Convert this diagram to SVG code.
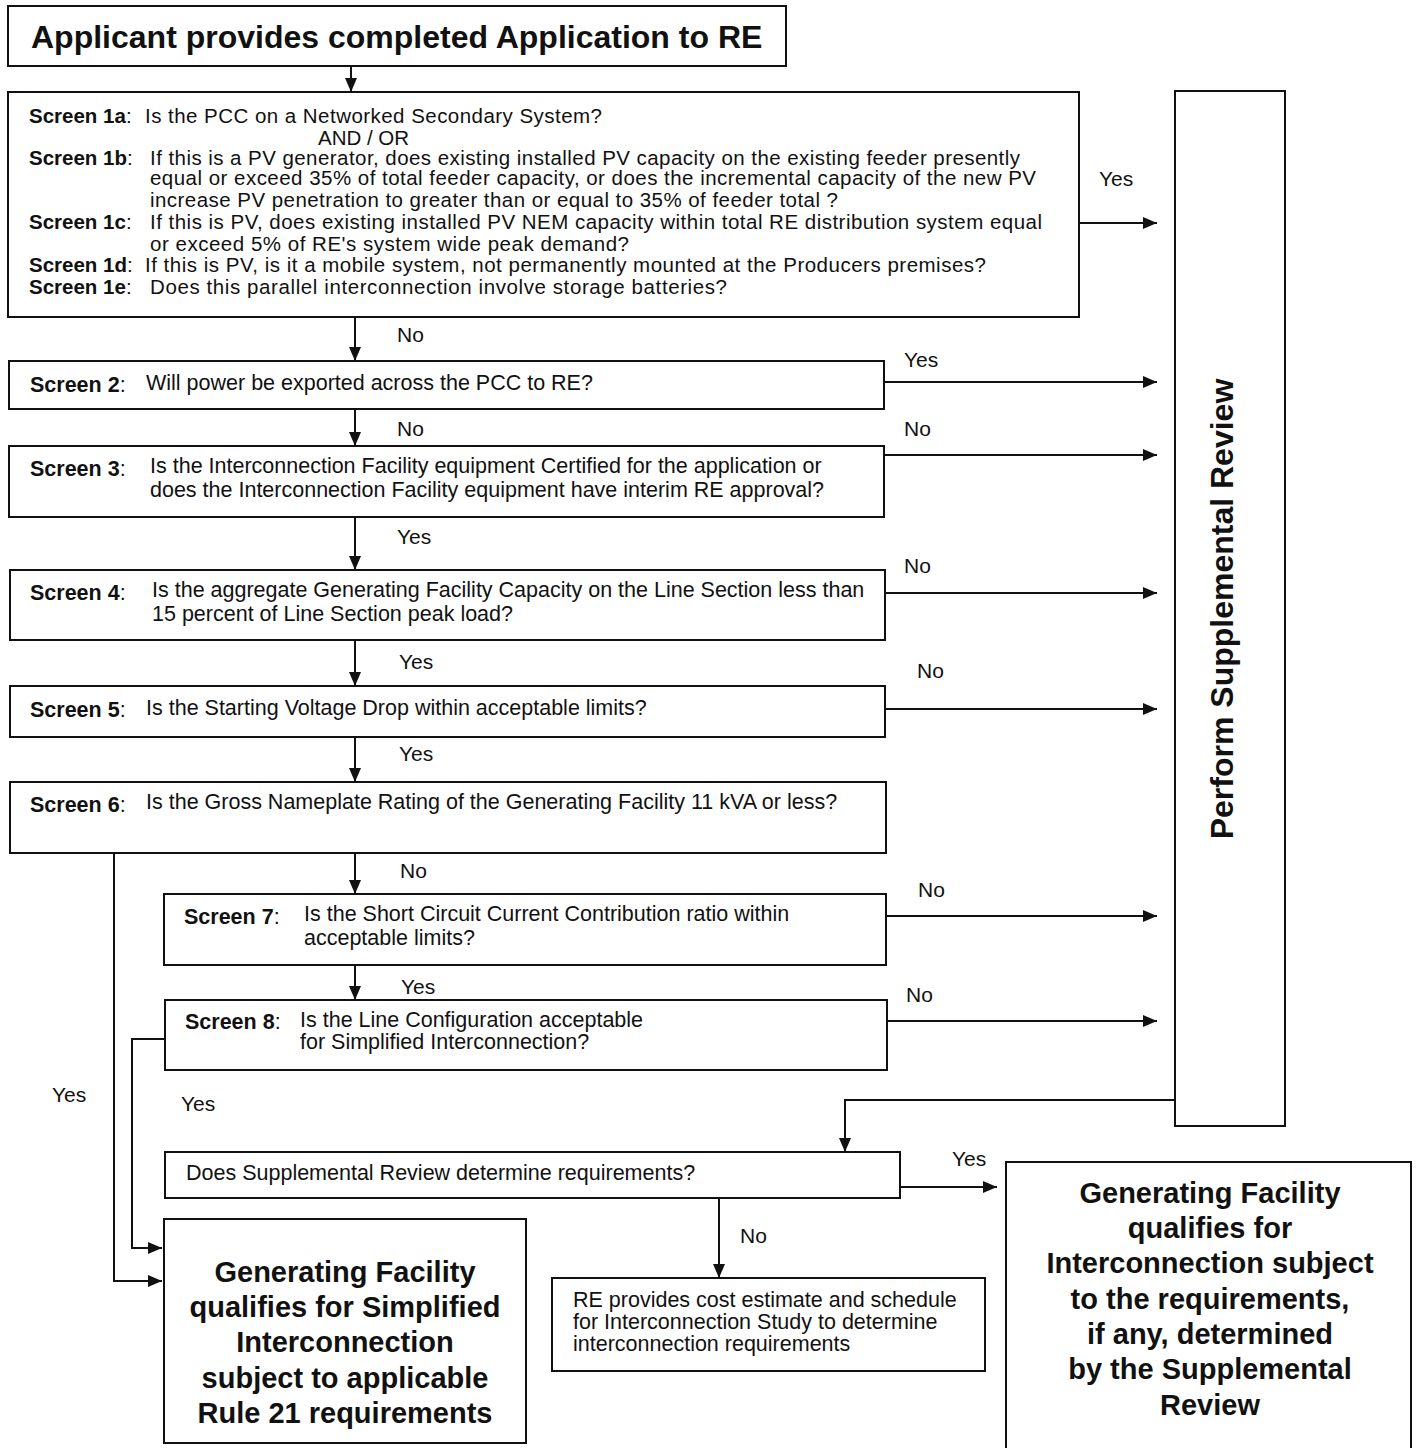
<svg xmlns="http://www.w3.org/2000/svg" width="1416" height="1448" viewBox="0 0 1416 1448">
<defs>
<marker id="ah" viewBox="0 0 14 12" refX="14" refY="6" markerWidth="14" markerHeight="12" markerUnits="userSpaceOnUse" orient="auto"><path d="M0,0 L14,6 L0,12 z" fill="#111"/></marker>
<style>
.box{fill:#fff;stroke:#111;stroke-width:2}
.t{font-family:"Liberation Sans",Arial,sans-serif;font-size:21.5px;fill:#111}
.s{font-family:"Liberation Sans",Arial,sans-serif;font-size:20.5px;fill:#111}
.b{font-weight:bold}
.lbl{font-family:"Liberation Sans",Arial,sans-serif;font-size:21px;fill:#111}
.big{font-family:"Liberation Sans",Arial,sans-serif;font-size:29px;font-weight:bold;fill:#111;text-anchor:middle}
.c{fill:none;stroke:#111;stroke-width:2}
.a{marker-end:url(#ah)}
</style>
</defs>
<rect width="1416" height="1448" fill="#fff"/>

<g id="connectors">
<line class="c a" x1="351" y1="66" x2="351" y2="92"/>
<line class="c a" x1="1079" y1="223" x2="1157" y2="223"/>
<line class="c a" x1="355" y1="317" x2="355" y2="361"/>
<line class="c a" x1="884" y1="382" x2="1157" y2="382"/>
<line class="c a" x1="355" y1="409" x2="355" y2="446"/>
<line class="c a" x1="884" y1="455" x2="1157" y2="455"/>
<line class="c a" x1="355" y1="517" x2="355" y2="570"/>
<line class="c a" x1="885" y1="593" x2="1157" y2="593"/>
<line class="c a" x1="355" y1="640" x2="355" y2="686"/>
<line class="c a" x1="885" y1="709" x2="1157" y2="709"/>
<line class="c a" x1="355" y1="737" x2="355" y2="782"/>
<line class="c a" x1="355" y1="853" x2="355" y2="894"/>
<line class="c a" x1="886" y1="916" x2="1157" y2="916"/>
<line class="c a" x1="355" y1="965" x2="355" y2="1000"/>
<line class="c a" x1="887" y1="1021" x2="1157" y2="1021"/>
<polyline class="c a" points="114,853 114,1281 162,1281"/>
<polyline class="c a" points="165,1039 132,1039 132,1248 162,1248"/>
<polyline class="c a" points="1176,1100 845,1100 845,1152"/>
<line class="c a" x1="900" y1="1187" x2="997" y2="1187"/>
<line class="c a" x1="719" y1="1198" x2="719" y2="1278"/>

<text class="lbl" x="1099" y="186">Yes</text>
<text class="lbl" x="397" y="342">No</text>
<text class="lbl" x="904" y="367">Yes</text>
<text class="lbl" x="397" y="436">No</text>
<text class="lbl" x="904" y="436">No</text>
<text class="lbl" x="397" y="544">Yes</text>
<text class="lbl" x="904" y="573">No</text>
<text class="lbl" x="399" y="669">Yes</text>
<text class="lbl" x="917" y="678">No</text>
<text class="lbl" x="399" y="761">Yes</text>
<text class="lbl" x="400" y="878">No</text>
<text class="lbl" x="918" y="897">No</text>
<text class="lbl" x="401" y="994">Yes</text>
<text class="lbl" x="906" y="1002">No</text>
<text class="lbl" x="52" y="1102">Yes</text>
<text class="lbl" x="181" y="1111">Yes</text>
<text class="lbl" x="952" y="1166">Yes</text>
<text class="lbl" x="740" y="1243">No</text>
</g>

<g id="start">
<rect class="box" x="8" y="6" width="778" height="60"/>
<text x="31" y="48" style="font-family:'Liberation Sans',Arial,sans-serif;font-size:32px;font-weight:bold;fill:#111">Applicant provides completed Application to RE</text>
</g>

<g id="screen1">
<rect class="box" x="8" y="92" width="1071" height="225"/>
<text class="s" x="29" y="123"><tspan class="b">Screen 1a</tspan>:</text>
<text class="s" x="145" y="123" textLength="457">Is the PCC on a Networked Secondary System?</text>
<text class="s" x="318" y="145">AND / OR</text>
<text class="s" x="29" y="165"><tspan class="b">Screen 1b</tspan>:</text>
<text class="s" x="150" y="165" textLength="870">If this is a PV generator, does existing installed PV capacity on the existing feeder presently</text>
<text class="s" x="150" y="185" textLength="886">equal or exceed 35% of total feeder capacity, or does the incremental capacity of the new PV</text>
<text class="s" x="150" y="207" textLength="688">increase PV penetration to greater than or equal to 35% of feeder total ?</text>
<text class="s" x="29" y="229"><tspan class="b">Screen 1c</tspan>:</text>
<text class="s" x="150" y="229" textLength="892">If this is PV, does existing installed PV NEM capacity within total RE distribution system equal</text>
<text class="s" x="150" y="251" textLength="479">or exceed 5% of RE's system wide peak demand?</text>
<text class="s" x="29" y="272"><tspan class="b">Screen 1d</tspan>:</text>
<text class="s" x="145" y="272" textLength="841">If this is PV, is it a mobile system, not permanently mounted at the Producers premises?</text>
<text class="s" x="29" y="294"><tspan class="b">Screen 1e</tspan>:</text>
<text class="s" x="150" y="294" textLength="577">Does this parallel interconnection involve storage batteries?</text>
</g>

<g id="screen2">
<rect class="box" x="9" y="361" width="875" height="48"/>
<text class="t" x="30" y="392"><tspan class="b">Screen 2</tspan>:</text>
<text class="t" x="146" y="390">Will power be exported across the PCC to RE?</text>
</g>

<g id="screen3">
<rect class="box" x="9" y="446" width="875" height="71"/>
<text class="t" x="30" y="476"><tspan class="b">Screen 3</tspan>:</text>
<text class="t" x="150" y="473">Is the Interconnection Facility equipment Certified for  the application or</text>
<text class="t" x="150" y="497">does the Interconnection Facility equipment have interim RE approval?</text>
</g>

<g id="screen4">
<rect class="box" x="10" y="570" width="875" height="70"/>
<text class="t" x="30" y="600"><tspan class="b">Screen 4</tspan>:</text>
<text class="t" x="152" y="597">Is the aggregate Generating Facility Capacity on the Line Section less than</text>
<text class="t" x="152" y="621">15 percent of Line Section peak load?</text>
</g>

<g id="screen5">
<rect class="box" x="10" y="686" width="875" height="51"/>
<text class="t" x="30" y="717"><tspan class="b">Screen 5</tspan>:</text>
<text class="t" x="146" y="715">Is the Starting Voltage Drop within acceptable limits?</text>
</g>

<g id="screen6">
<rect class="box" x="10" y="782" width="876" height="71"/>
<text class="t" x="30" y="812"><tspan class="b">Screen 6</tspan>:</text>
<text class="t" x="146" y="809">Is the Gross Nameplate Rating of the Generating Facility 11 kVA or less?</text>
</g>

<g id="screen7">
<rect class="box" x="164" y="894" width="722" height="71"/>
<text class="t" x="184" y="924"><tspan class="b">Screen 7</tspan>:</text>
<text class="t" x="304" y="921">Is the Short Circuit Current Contribution ratio within</text>
<text class="t" x="304" y="945">acceptable limits?</text>
</g>

<g id="screen8">
<rect class="box" x="165" y="1000" width="722" height="70"/>
<text class="t" x="185" y="1029"><tspan class="b">Screen 8</tspan>:</text>
<text class="t" x="300" y="1027">Is the Line Configuration acceptable</text>
<text class="t" x="300" y="1049">for Simplified Interconnection?</text>
</g>

<g id="supplemental">
<rect class="box" x="1175" y="91" width="110" height="1035"/>
<text x="1233" y="609" transform="rotate(-90 1233 609)" style="font-family:'Liberation Sans',Arial,sans-serif;font-size:32px;font-weight:bold;fill:#111;text-anchor:middle">Perform Supplemental Review</text>
</g>

<g id="review-question">
<rect class="box" x="165" y="1152" width="735" height="46"/>
<text class="t" x="186" y="1180">Does Supplemental Review determine requirements?</text>
</g>

<g id="simplified">
<rect class="box" x="164" y="1219" width="362" height="224"/>
<text class="big" x="345" y="1282">Generating Facility</text>
<text class="big" x="345" y="1317">qualifies for Simplified</text>
<text class="big" x="345" y="1352">Interconnection</text>
<text class="big" x="345" y="1388">subject to applicable</text>
<text class="big" x="345" y="1423">Rule 21 requirements</text>
</g>

<g id="study">
<rect class="box" x="552" y="1278" width="433" height="93"/>
<text class="t" x="573" y="1307">RE provides cost estimate and schedule</text>
<text class="t" x="573" y="1329">for Interconnection Study to determine</text>
<text class="t" x="573" y="1351">interconnection requirements</text>
</g>

<g id="qualifies">
<rect class="box" x="1006" y="1162" width="405" height="300"/>
<text class="big" x="1210" y="1203">Generating Facility</text>
<text class="big" x="1210" y="1238">qualifies for</text>
<text class="big" x="1210" y="1273">Interconnection subject</text>
<text class="big" x="1210" y="1309">to the requirements,</text>
<text class="big" x="1210" y="1344">if any, determined</text>
<text class="big" x="1210" y="1379">by the Supplemental</text>
<text class="big" x="1210" y="1415">Review</text>
</g>
</svg>
